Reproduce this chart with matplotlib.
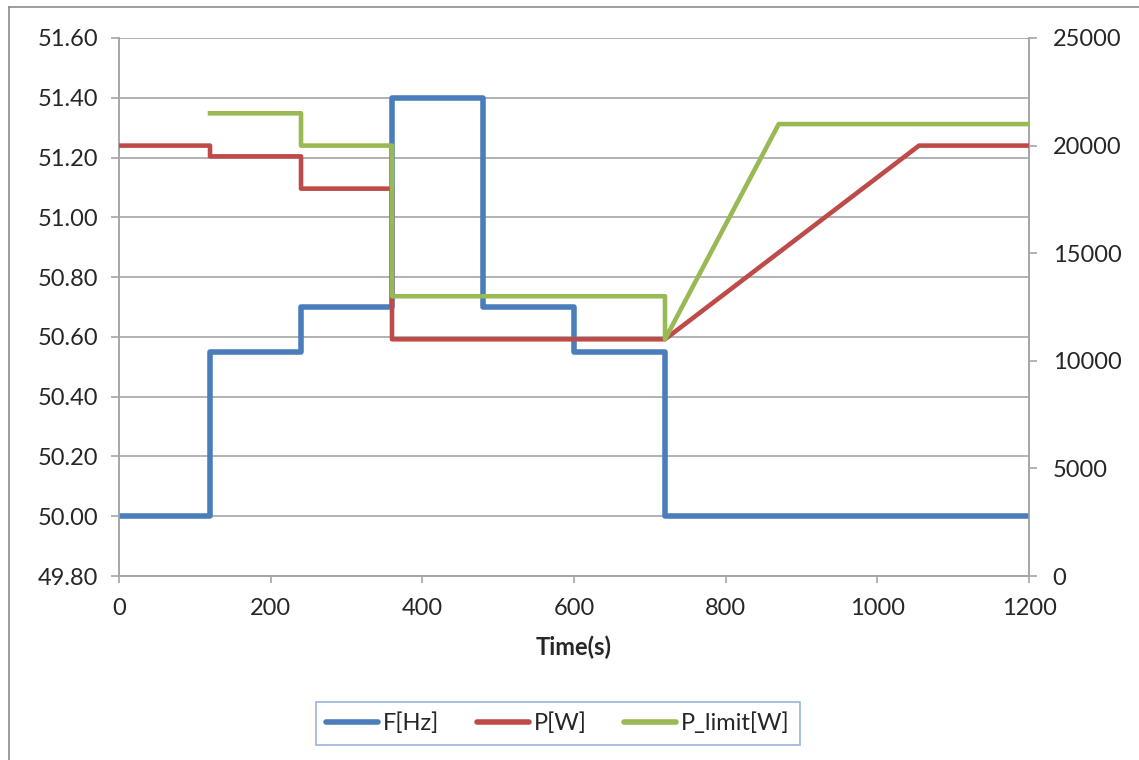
import numpy as np
import matplotlib.pyplot as plt
from matplotlib.lines import Line2D

plt.rcParams['font.family'] = ['Lato', 'DejaVu Sans']

# frequency steps (start time of each step, value)
f_start = [0, 120, 240, 360, 480, 600, 720, 1200]
f_hz = [50.00, 50.55, 50.70, 51.40, 50.70, 50.55, 50.00, 50.00]

# measured power
p_t = [0, 120, 120, 240, 240, 360, 360, 720, 1055, 1200]
p_w = [20000, 20000, 19500, 19500, 18000, 18000, 11000, 11000, 20000, 20000]

# power limit
pl_t = [120, 240, 240, 360, 360, 720, 720, 870, 1200]
pl_w = [21500, 21500, 20000, 20000, 13000, 13000, 11000, 21000, 21000]

c_f = '#4A7EBB'
c_p = '#BE4B48'
c_pl = '#98B954'
txt = '#262626'
grid_c = '#A6A6A6'
fs = 17

fig = plt.figure(figsize=(11.39, 7.60), dpi=100)
ax1 = fig.add_axes([0.1045, 0.2421, 0.7989, 0.7079])
ax2 = ax1.twinx()

ax1.step(f_start, f_hz, where='post', color=c_f, lw=4.0, zorder=3)
ax2.plot(p_t, p_w, color=c_p, lw=3.3, zorder=3)
ax2.plot(pl_t, pl_w, color=c_pl, lw=3.3, zorder=3)

ax1.set_xlim(0, 1200)
ax1.set_ylim(49.8, 51.6)
ax2.set_ylim(0, 25000)
ax1.set_xticks(np.arange(0, 1201, 200))
ax1.set_yticks(np.arange(49.8, 51.61, 0.2))
ax1.set_yticklabels(['%.2f' % v for v in np.arange(49.8, 51.61, 0.2)])
ax2.set_yticks(np.arange(0, 25001, 5000))

ax1.yaxis.grid(True, color=grid_c, lw=1.2)
ax1.set_axisbelow(True)
ax2.set_zorder(ax1.get_zorder() + 1)
ax2.patch.set_visible(False)

for a in (ax1, ax2):
    a.spines['top'].set_visible(False)
    for s in ('left', 'right', 'bottom'):
        a.spines[s].set_color(grid_c)
        a.spines[s].set_linewidth(1.2)

ax1.tick_params(axis='y', length=6, width=1.2, color=grid_c, pad=9, labelsize=fs, labelcolor=txt)
ax1.tick_params(axis='x', length=5, width=1.2, color=grid_c, pad=11, labelsize=fs, labelcolor=txt)
ax2.tick_params(axis='y', length=6, width=1.2, color=grid_c, pad=11, labelsize=fs, labelcolor=txt)

ax1.set_xlabel('Time(s)', fontsize=fs, fontweight='bold', color=txt, labelpad=12)

handles = [Line2D([0], [0], color=c_f, lw=4, solid_capstyle='round'),
           Line2D([0], [0], color=c_p, lw=4, solid_capstyle='round'),
           Line2D([0], [0], color=c_pl, lw=4, solid_capstyle='round')]
leg = fig.legend(handles, ['F[Hz]', 'P[W]', 'P_limit[W]'], loc='center',
                 bbox_to_anchor=(0.49, 0.048), ncol=3, fontsize=fs, frameon=True,
                 fancybox=False, handlelength=2.2, handletextpad=0.2, columnspacing=1.6,
                 borderpad=0.45)
leg.get_frame().set_edgecolor('#7FA3D1')
leg.get_frame().set_linewidth(1.2)
for t in leg.get_texts():
    t.set_color(txt)

# outer chart border (top and left visible)
fig.add_artist(Line2D([9 / 1139, 9 / 1139], [0, 1 - 7 / 760], transform=fig.transFigure, color='#8C8C8C', lw=1.2))
fig.add_artist(Line2D([9 / 1139, 1], [1 - 7 / 760, 1 - 7 / 760], transform=fig.transFigure, color='#8C8C8C', lw=1.2))

fig.savefig('out.png', dpi=100)
